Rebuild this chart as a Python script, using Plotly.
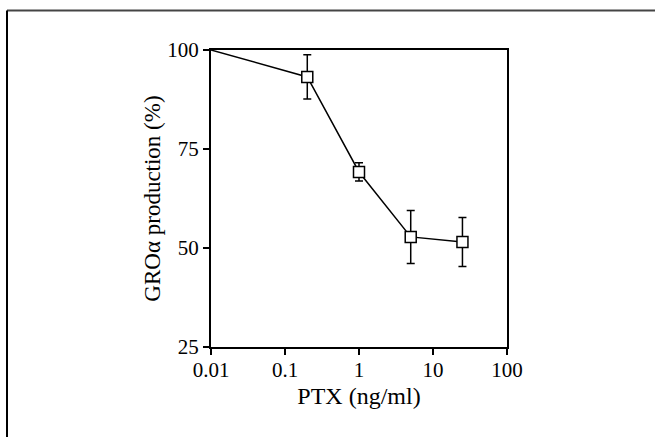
import plotly.graph_objects as go

# Data
ptx_dose = [0.01, 0.2, 1, 5, 25]                 # ng/ml
gro_production = [100, 93.2, 69.2, 52.8, 51.5]   # %
gro_error = [0, 5.6, 2.3, 6.7, 6.2]

x_tick_vals = [0.01, 0.1, 1, 10, 100]
x_tick_text = ["0.01", "0.1", "1", "10", "100"]
y_tick_vals = [25, 50, 75, 100]

FONT = "Liberation Serif"

fig = go.Figure()

# connecting line including the origin point (no marker)
fig.add_trace(go.Scatter(
    x=ptx_dose, y=gro_production, mode="lines",
    line=dict(color="black", width=1.5), hoverinfo="skip", showlegend=False,
    cliponaxis=False,
))

# measured points with error bars
fig.add_trace(go.Scatter(
    x=ptx_dose[1:], y=gro_production[1:], mode="markers",
    marker=dict(symbol="square", size=11, color="white",
                line=dict(color="black", width=1.5)),
    error_y=dict(type="data", array=gro_error[1:], visible=True,
                 color="black", thickness=1.5, width=4),
    showlegend=False, cliponaxis=False,
))

# plot area pixel geometry (for the outer frame lines)
W, H = 655, 437
L, R, T, B = 211, 507, 50, 347

def px_to_paper_x(px):
    return (px - L) / (R - L)

def py_to_paper_y(py):
    return (B - py) / (B - T)

frame_color = "#444444"
fig.add_shape(type="line", xref="paper", yref="paper",
              x0=px_to_paper_x(7), x1=px_to_paper_x(W + 5),
              y0=py_to_paper_y(10.5), y1=py_to_paper_y(10.5),
              line=dict(color=frame_color, width=2))
fig.add_shape(type="line", xref="paper", yref="paper",
              x0=px_to_paper_x(7), x1=px_to_paper_x(7),
              y0=py_to_paper_y(10.5), y1=py_to_paper_y(H + 5),
              line=dict(color="black", width=2))

axis_common = dict(
    showline=True, linecolor="black", linewidth=2, mirror=True,
    ticks="outside", ticklen=6, tickwidth=1.5, tickcolor="black",
    showgrid=False, zeroline=False,
    tickfont=dict(family=FONT, size=21, color="black"),
)

fig.update_xaxes(
    type="log", range=[-2, 2], tickvals=x_tick_vals, ticktext=x_tick_text,
    ticklabelstandoff=-3,
    title=dict(text="PTX (ng/ml)", font=dict(family=FONT, size=24, color="black"),
               standoff=6),
    **axis_common,
)
fig.update_yaxes(
    range=[25, 100], tickvals=y_tick_vals,
    title=dict(text="GROα production (%)", font=dict(family=FONT, size=23, color="black"),
               standoff=0),
    **axis_common,
)

fig.update_layout(
    width=W, height=H,
    margin=dict(l=L, r=W - R, t=T, b=H - B, autoexpand=False),
    paper_bgcolor="white", plot_bgcolor="white",
)

fig.write_html("out.html", config={"displayModeBar": False},
               post_script="document.body.style.margin='0';")
